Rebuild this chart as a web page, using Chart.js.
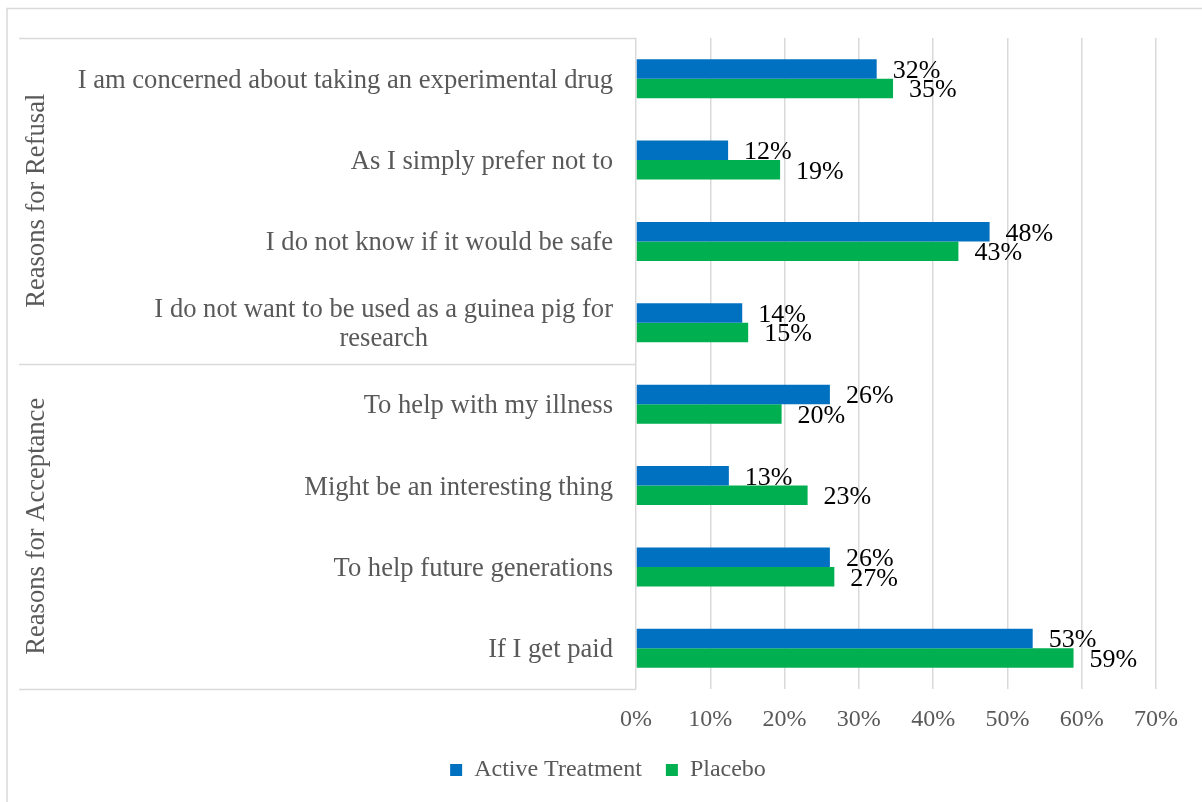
<!DOCTYPE html>
<html>
<head>
<meta charset="utf-8">
<script src="https://cdn.jsdelivr.net/npm/chart.js@4.4.1/dist/chart.umd.min.js"></script>
<style>
  html, body { margin: 0; padding: 0; background: #ffffff; }
  #wrap { width: 1202px; height: 802px; position: relative; }
</style>
</head>
<body>
<div id="wrap"><canvas id="c" width="1202" height="802"></canvas></div>
<script>
// ---- data ----
const categories = [
  "I am concerned about taking an experimental drug",
  "As I simply prefer not to",
  "I do not know if it would be safe",
  ["I do not want to be used as a guinea pig for", "research"],
  "To help with my illness",
  "Might be an interesting thing",
  "To help future generations",
  "If I get paid"
];
const groups = ["Reasons for Refusal", "Reasons for Acceptance"];
const groupSizes = [4, 4];
const seriesNames = ["Active Treatment", "Placebo"];
const activeTreatment = [32.4, 12.4, 47.6, 14.3, 26.1, 12.5, 26.1, 53.4];
const placebo = [34.6, 19.4, 43.4, 15.1, 19.6, 23.1, 26.7, 58.9];
const xTicks = [0, 10, 20, 30, 40, 50, 60, 70];

const SERIF = "'Liberation Serif', 'Times New Roman', serif";
const GRID = "#D9D9D9";
const GRAY_TEXT = "#595959";

const decorPlugin = {
  id: 'decor',
  beforeDraw(chart) {
    const ctx = chart.ctx;
    ctx.save();
    ctx.strokeStyle = GRID;
    ctx.lineWidth = 1.5;
    // outer frame (top + left visible)
    ctx.beginPath();
    ctx.moveTo(7, 802); ctx.lineTo(7, 8.5); ctx.lineTo(1202, 8.5);
    ctx.stroke();
    ctx.restore();
  },
  afterDraw(chart) {
    const ctx = chart.ctx;
    const y = chart.scales.y;
    const area = chart.chartArea;
    ctx.save();
    // group separator lines
    ctx.strokeStyle = GRID;
    ctx.lineWidth = 1.5;
    let idx = 0;
    const bounds = [-0.5];
    groupSizes.forEach(n => { idx += n; bounds.push(idx - 0.5); });
    bounds.forEach(b => {
      const py = Math.round(y.getPixelForValue(b)) + 0.5;
      ctx.beginPath();
      ctx.moveTo(19, py); ctx.lineTo(area.left, py);
      ctx.stroke();
    });
    // category labels
    ctx.fillStyle = GRAY_TEXT;
    ctx.font = "26.6px " + SERIF;
    ctx.textBaseline = 'middle';
    ctx.textAlign = 'center';
    const rightEdge = area.left - 23;
    const lh = 29;
    categories.forEach((lab, i) => {
      const lines = Array.isArray(lab) ? lab : [lab];
      const maxW = Math.max(...lines.map(l => ctx.measureText(l).width));
      const cx = rightEdge - maxW / 2;
      const cy = y.getPixelForValue(i) + 2;
      lines.forEach((l, k) => {
        ctx.fillText(l, cx, cy + (k - (lines.length - 1) / 2) * lh);
      });
    });
    // group labels (rotated)
    let start = 0;
    groups.forEach((g, gi) => {
      const mid = start + (groupSizes[gi] - 1) / 2;
      const py = y.getPixelForValue(mid);
      ctx.save();
      ctx.translate(37, py);
      ctx.rotate(-Math.PI / 2);
      ctx.fillText(g, 0, 0);
      ctx.restore();
      start += groupSizes[gi];
    });
    // data labels
    ctx.fillStyle = "#000000";
    ctx.font = "26px " + SERIF;
    ctx.textAlign = 'left';
    chart.data.datasets.forEach((ds, di) => {
      const meta = chart.getDatasetMeta(di);
      meta.data.forEach((bar, i) => {
        ctx.fillText(Math.round(ds.data[i]) + "%", bar.x + 16, bar.y + 2);
      });
    });
    ctx.restore();
  }
};

new Chart(document.getElementById('c'), {
  type: 'bar',
  data: {
    labels: categories,
    datasets: [
      { label: seriesNames[0], data: activeTreatment, backgroundColor: '#0070C0', borderWidth: 0 },
      { label: seriesNames[1], data: placebo, backgroundColor: '#00B050', borderWidth: 0 }
    ]
  },
  options: {
    indexAxis: 'y',
    responsive: false,
    animation: false,
    devicePixelRatio: 1,
    categoryPercentage: 0.48,
    barPercentage: 1.0,
    layout: { padding: { left: 60, right: 46, top: 38, bottom: 10 } },
    scales: {
      y: {
        ticks: { display: false },
        grid: { display: false },
        border: { display: false },
        afterFit(s) { s.width = 576; }
      },
      x: {
        min: 0, max: 70,
        afterBuildTicks(s) { s.ticks = xTicks.map(v => ({ value: v })); },
        ticks: {
          callback: v => v + '%',
          color: GRAY_TEXT,
          font: { family: SERIF, size: 24 },
          padding: 16
        },
        grid: { color: GRID, lineWidth: 1.5, drawTicks: false },
        border: { display: false },
        afterFit(s) { s.height = 45; }
      }
    },
    plugins: {
      legend: {
        position: 'bottom',
        labels: {
          boxWidth: 12, boxHeight: 12,
          color: GRAY_TEXT,
          font: { family: SERIF, size: 24 },
          padding: 24
        }
      },
      tooltip: { enabled: false }
    }
  },
  plugins: [decorPlugin]
});
</script>
</body>
</html>
